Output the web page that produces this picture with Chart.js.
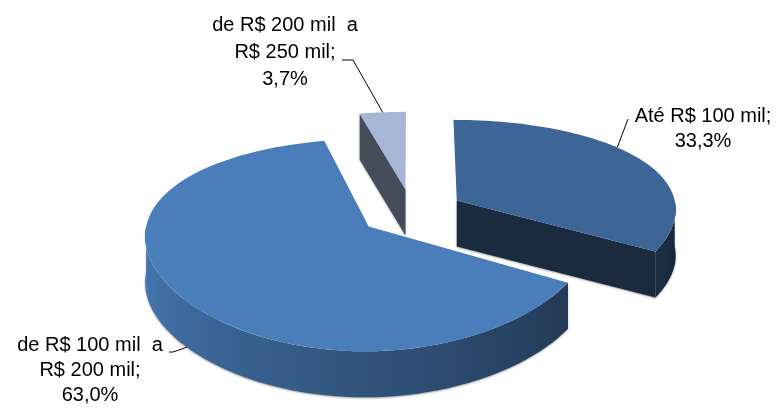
<!DOCTYPE html>
<html>
<head>
<meta charset="utf-8">
<script src="https://cdn.jsdelivr.net/npm/chart.js@4.4.0/dist/chart.umd.min.js"></script>
<style>
  html, body { margin: 0; padding: 0; background: #fff; }
  #wrap { width: 779px; height: 410px; }
</style>
</head>
<body>
<div id="wrap"><canvas id="faixas"></canvas></div>
<script>
// faixas de faturamento e participação (%)
const faixas = ["Até R$ 100 mil", "de R$ 100 mil a R$ 200 mil", "de R$ 200 mil a R$ 250 mil"];
const percentuais = [33.3, 63.0, 3.7];
// texto dos rótulos, quebrado em linhas (o percentual é acrescentado depois)
const nomesRotulo = [["Até R$ 100 mil;"], ["de R$ 100 mil  a", "R$ 200 mil;"], ["de R$ 200 mil  a", "R$ 250 mil;"]];
const cores = ["#3d6696", "#4a7ebb", "#a5b6d6"];

// pizza 3D: afastamento das fatias, projeção em perspectiva e espessura
const afastamento = 0.24;
const raioX = 220, raioY = 98, perspX = 0.08, perspY = 0.171, espessura = 46;

// posição dos rótulos e das linhas de chamada
const rotuloPos = [
  { x: 703, y: 122, lh: 25, guia: [[628, 119]], ancora: 0.43, z: 0 },
  { x: 90, y: 351, lh: 25, guia: [[169, 352], [173, 352]], ancora: 0.485, z: 1 },
  { x: 285, y: 31, lh: 27, guia: [[342, 60], [353, 60]], ancora: 0.5, z: 0 }
];

function tom(hex, f) {
  const n = parseInt(hex.slice(1), 16);
  const c = [(n >> 16) & 255, (n >> 8) & 255, n & 255].map(v => Math.round(v * f));
  return "rgb(" + c.join(",") + ")";
}

function fatia(arc) {
  const mid = (arc.startAngle + arc.endAngle) / 2;
  const ou = Math.cos(mid) * afastamento, ow = Math.sin(mid) * afastamento;
  return function (phi, r, z) {
    const u = ou + r * Math.cos(phi), w = ow + r * Math.sin(phi);
    return [arc.x + raioX * u / (1 - perspX * w), arc.y + raioY * w / (1 - perspY * w) + z];
  };
}

function poligono(ctx, pts, fill) {
  ctx.beginPath();
  pts.forEach((p, i) => i ? ctx.lineTo(p[0], p[1]) : ctx.moveTo(p[0], p[1]));
  ctx.closePath();
  ctx.fillStyle = fill;
  ctx.fill();
}

function brilho(phi) {
  return 0.35 + 0.62 * Math.max(0, Math.min(1, phi / Math.PI));
}

function desenhaFatia(ctx, arc) {
  const a0 = arc.startAngle, a1 = arc.endAngle;
  const pt = fatia(arc);
  const cor = arc.options.backgroundColor;
  ctx.save();
  ctx.shadowColor = "rgba(0,0,0,0.35)";
  ctx.shadowBlur = 2;
  ctx.shadowOffsetY = 1;
  // faces de corte visíveis
  const faces = [];
  if (Math.cos(a0) < 0) faces.push(a0);
  if (Math.cos(a1) > 0) faces.push(a1);
  faces.forEach(phi => {
    poligono(ctx, [pt(phi, 0, 0), pt(phi, 1, 0), pt(phi, 1, espessura), pt(phi, 0, espessura)], tom(cor, 0.42));
  });
  // parede externa (metade da frente)
  const s = Math.max(a0, 0), e = Math.min(a1, Math.PI);
  if (e > s) {
    const n = 60, topo = [], base = [];
    for (let k = 0; k <= n; k++) {
      const phi = s + (e - s) * k / n;
      topo.push(pt(phi, 1, 0));
      base.push(pt(phi, 1, espessura));
    }
    const xd = topo[0][0], xe = topo[n][0];
    const grad = ctx.createLinearGradient(xe, 0, xd, 0);
    for (let k = 0; k <= n; k += 6) {
      const phi = s + (e - s) * k / n;
      const pos = xd === xe ? 0 : (topo[k][0] - xe) / (xd - xe);
      grad.addColorStop(Math.max(0, Math.min(1, pos)), tom(cor, brilho(phi)));
    }
    poligono(ctx, topo.concat(base.reverse()), grad);
  }
  ctx.restore();
  // face superior
  const sup = [pt(a0, 0, 0)];
  for (let k = 0; k <= 80; k++) sup.push(pt(a0 + (a1 - a0) * k / 80, 1, 0));
  poligono(ctx, sup, cor);
}

const pizza3d = {
  id: "pizza3d",
  beforeDatasetsDraw(chart) {
    const ctx = chart.ctx;
    const arcs = chart.getDatasetMeta(0).data;
    const prof = a => Math.sin((a.startAngle + a.endAngle) / 2);
    arcs.map((a, i) => i)
      .sort((i, j) => prof(arcs[i]) - prof(arcs[j]))
      .forEach(i => desenhaFatia(ctx, arcs[i]));
    return false;
  },
  afterDraw(chart) {
    const ctx = chart.ctx;
    const arcs = chart.getDatasetMeta(0).data;
    ctx.save();
    ctx.font = '20px "Liberation Sans", Arial, sans-serif';
    ctx.fillStyle = "#000";
    ctx.textAlign = "center";
    ctx.textBaseline = "alphabetic";
    arcs.forEach((arc, i) => {
      const pos = rotuloPos[i];
      const linhas = nomesRotulo[i].concat([percentuais[i].toFixed(1).replace(".", ",") + "%"]);
      linhas.forEach((t, k) => ctx.fillText(t, pos.x, pos.y + k * pos.lh));
      const phi = arc.startAngle + (arc.endAngle - arc.startAngle) * pos.ancora;
      const fim = fatia(arc)(phi, 1, pos.z * espessura);
      ctx.beginPath();
      pos.guia.forEach((p, k) => k ? ctx.lineTo(p[0], p[1]) : ctx.moveTo(p[0], p[1]));
      ctx.lineTo(fim[0], fim[1]);
      ctx.strokeStyle = "#000";
      ctx.lineWidth = 1;
      ctx.stroke();
    });
    ctx.restore();
  }
};

new Chart(document.getElementById("faixas"), {
  type: "pie",
  data: {
    labels: faixas,
    datasets: [{ data: percentuais, backgroundColor: cores, borderWidth: 0 }]
  },
  options: {
    responsive: true,
    maintainAspectRatio: false,
    animation: false,
    layout: { padding: { left: 44, top: 14 } },
    plugins: { legend: { display: false }, tooltip: { enabled: false } }
  },
  plugins: [pizza3d]
});
</script>
</body>
</html>
